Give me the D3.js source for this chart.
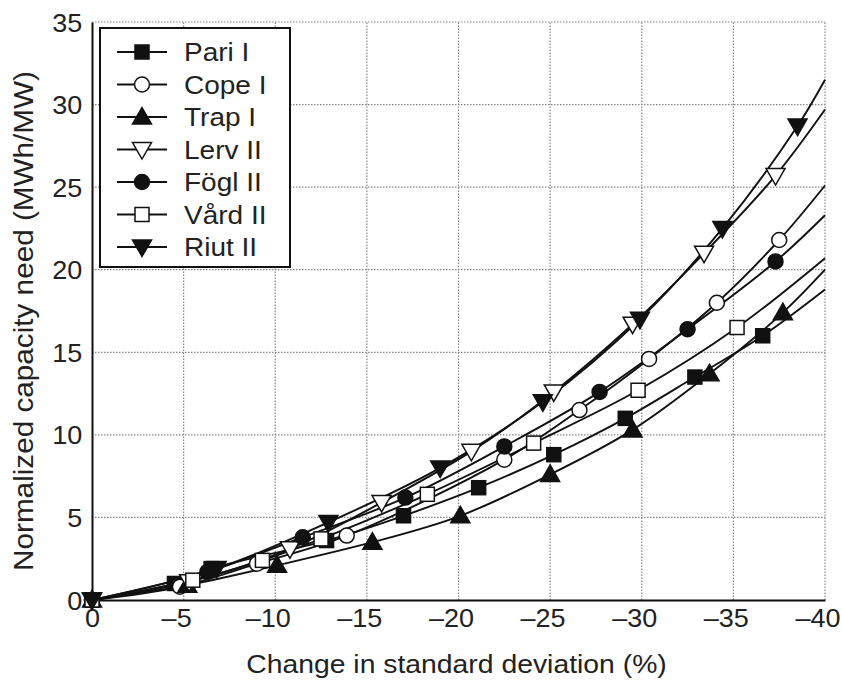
<!DOCTYPE html>
<html>
<head>
<meta charset="utf-8">
<script src="https://cdnjs.cloudflare.com/ajax/libs/d3/7.8.5/d3.min.js"></script>
<style>
  body { margin: 0; background: #fff; }
  text { font-family: "Liberation Sans", Arial, sans-serif; fill: #222; }
</style>
</head>
<body>
<svg id="chart" width="842" height="685"></svg>
<script>
// marker points, [change in std dev %, capacity need]
var pariI  = [[0,0],[-4.5,1.0],[-6.5,1.9],[-12.8,3.6],[-17.0,5.1],[-21.1,6.8],[-25.2,8.8],[-29.1,11.0],[-32.9,13.5],[-36.6,16.0]];
var copeI  = [[0,0],[-4.8,0.8],[-9.0,2.2],[-13.9,3.9],[-22.5,8.5],[-26.6,11.5],[-30.4,14.6],[-34.1,18.0],[-37.5,21.8]];
var trapI  = [[0,0],[-5.2,0.9],[-10.1,2.1],[-15.3,3.5],[-20.1,5.1],[-25.0,7.6],[-29.5,10.3],[-33.7,13.7],[-37.7,17.4]];
var lervII = [[0,0],[-5.3,1.1],[-10.8,3.1],[-15.8,5.9],[-20.7,9.0],[-25.2,12.6],[-29.5,16.7],[-33.4,21.0],[-37.3,25.7]];
var foglII = [[0,0],[-6.3,1.7],[-11.5,3.8],[-17.1,6.2],[-22.5,9.3],[-27.7,12.6],[-32.5,16.4],[-37.3,20.5]];
var vardII = [[0,0],[-5.5,1.2],[-9.3,2.4],[-12.5,3.7],[-18.3,6.4],[-24.1,9.5],[-29.8,12.7],[-35.2,16.5]];
var riutII = [[0,0],[-6.8,1.9],[-12.9,4.7],[-19.0,8.0],[-24.6,12.0],[-29.9,17.0],[-34.4,22.5],[-38.5,28.7]];

// where each fitted curve leaves the plot at -40
var curveEnds = [18.8, 25.1, 20.0, 29.7, 23.3, 20.7, 31.5];

var seriesNames = ["Pari I", "Cope I", "Trap I", "Lerv II", "Fögl II", "Vård II", "Riut II"];
var markerTypes = ["squareFill", "circleOpen", "triUpFill", "triDownOpen", "circleFill", "squareOpen", "triDownFill"];
var xTicks = [0, -5, -10, -15, -20, -25, -30, -35, -40];
var yTicks = [0, 5, 10, 15, 20, 25, 30, 35];

var allSeries = [pariI, copeI, trapI, lervII, foglII, vardII, riutII];

var margin = {left: 92, right: 17, top: 22, bottom: 85};
var W = 842, H = 685;
var svg = d3.select("#chart");

var x = d3.scaleLinear().domain([0, -40]).range([margin.left, W - margin.right]);
var y = d3.scaleLinear().domain([0, 35]).range([H - margin.bottom, margin.top]);

var fmt = function (d) { return d === 0 ? "0" : "\u2013" + Math.abs(d); };

// grid
var grid = svg.append("g");
grid.selectAll(".vg").data(xTicks.slice(1)).enter().append("line")
    .attr("x1", d => x(d)).attr("x2", d => x(d))
    .attr("y1", y(0)).attr("y2", y(35))
    .attr("stroke", "#888").attr("stroke-width", 1.2).attr("stroke-dasharray", "1.5,1.5");
grid.selectAll(".hg").data(yTicks.slice(1)).enter().append("line")
    .attr("x1", x(0)).attr("x2", x(-40))
    .attr("y1", d => y(d)).attr("y2", d => y(d))
    .attr("stroke", "#888").attr("stroke-width", 1.2).attr("stroke-dasharray", "1.5,1.5");

// axes
var xAxis = svg.append("g").attr("transform", "translate(0," + y(0) + ")")
    .call(d3.axisBottom(x).tickValues(xTicks).tickFormat(fmt).tickSize(0).tickPadding(9));
var yAxis = svg.append("g").attr("transform", "translate(" + x(0) + ",0)")
    .call(d3.axisLeft(y).tickValues(yTicks).tickFormat(d3.format("d")).tickSize(0).tickPadding(9));
[xAxis, yAxis].forEach(function (a) {
    a.select(".domain").attr("stroke", "#111").attr("stroke-width", 2);
    a.selectAll("text").attr("font-size", 25).attr("font-family", "Liberation Sans, Arial, sans-serif")
        .attr("fill", "#222").attr("transform", "scale(1.08,1)");
});
// the digits sit centred on the tick, the minus hangs to the left
xAxis.selectAll("text").attr("dy", "0.72em").attr("dx", d => d === 0 ? 0 : "-0.278em");
yAxis.selectAll("text").attr("dy", "0.36em");

svg.append("text").attr("transform", "translate(" + ((x(0) + x(-40)) / 2 - 2) + ",673) scale(1.09,1)")
    .attr("text-anchor", "middle").attr("font-size", 26)
    .text("Change in standard deviation (%)");
svg.append("text").attr("transform", "translate(33," + ((y(0) + y(35)) / 2 + 10) + ") rotate(-90) scale(1.1,1)")
    .attr("text-anchor", "middle").attr("font-size", 27)
    .text("Normalized capacity need (MWh/MW)");

// curves
var line = d3.line().x(d => x(d[0])).y(d => y(d[1])).curve(d3.curveCatmullRom.alpha(0.5));
var plot = svg.append("g");
allSeries.forEach(function (pts, i) {
    var path = pts.concat([[-40, curveEnds[i]]]);
    plot.append("path").attr("d", line(path))
        .attr("fill", "none").attr("stroke", "#111").attr("stroke-width", 1.9);
});

function drawMarker(g, type, cx, cy) {
    var fill = type.indexOf("Fill") >= 0 ? "#111" : "#fff";
    var el;
    if (type.indexOf("square") === 0) {
        el = g.append("rect").attr("x", cx - 7).attr("y", cy - 7).attr("width", 14).attr("height", 14);
    } else if (type.indexOf("circle") === 0) {
        el = g.append("circle").attr("cx", cx).attr("cy", cy).attr("r", 7.5);
    } else if (type.indexOf("triUp") === 0) {
        el = g.append("path").attr("d", "M" + cx + "," + (cy - 9.5) + "L" + (cx + 9.5) + "," + (cy + 7) + "L" + (cx - 9.5) + "," + (cy + 7) + "Z");
    } else {
        el = g.append("path").attr("d", "M" + cx + "," + (cy + 9.5) + "L" + (cx + 9.5) + "," + (cy - 7) + "L" + (cx - 9.5) + "," + (cy - 7) + "Z");
    }
    el.attr("fill", fill).attr("stroke", "#111").attr("stroke-width", 1.5);
}

allSeries.forEach(function (pts, i) {
    pts.forEach(function (p) { drawMarker(plot, markerTypes[i], x(p[0]), y(p[1])); });
});

// legend
var lg = svg.append("g");
lg.append("rect").attr("x", 100).attr("y", 28).attr("width", 190).attr("height", 239)
    .attr("fill", "#fff").attr("stroke", "#111").attr("stroke-width", 2);
seriesNames.forEach(function (name, i) {
    var ly = 52 + i * 32.5;
    lg.append("line").attr("x1", 117).attr("x2", 167).attr("y1", ly).attr("y2", ly)
        .attr("stroke", "#111").attr("stroke-width", 1.9);
    drawMarker(lg, markerTypes[i], 142, ly);
    lg.append("text").attr("transform", "translate(184," + (ly + 9) + ") scale(1.12,1)")
        .attr("font-size", 25).text(name);
});
</script>
</body>
</html>
